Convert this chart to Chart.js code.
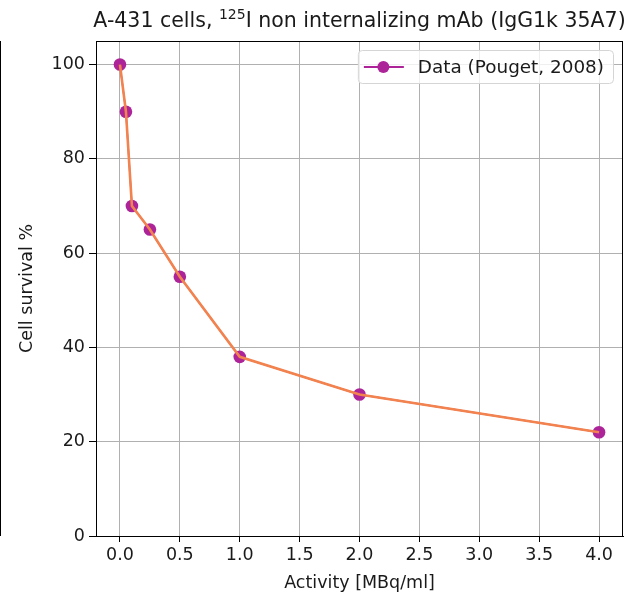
<!DOCTYPE html>
<html>
<head>
<meta charset="utf-8">
<script src="https://cdn.jsdelivr.net/npm/chart.js@4"></script>
<style>
html,body{margin:0;padding:0;background:#fff;}
#wrap{width:634px;height:598px;position:relative;}
</style>
</head>
<body>
<div id="wrap"><canvas id="c" width="634" height="598"></canvas></div>
<script>
// ---- data ----
const activity = [0, 0.05, 0.1, 0.25, 0.5, 1.0, 2.0, 4.0];          // MBq/ml
const survival = [100, 90, 70, 65, 55, 38, 30, 22];                  // %
const xTicks = [0, 0.5, 1.0, 1.5, 2.0, 2.5, 3.0, 3.5, 4.0];
const yTicks = [0, 20, 40, 60, 80, 100];
const seriesLabel = 'Data (Pouget, 2008)';
const titleParts = ['A-431 cells, ', '125', 'I non internalizing mAb (IgG1k 35A7)'];
const xLabel = 'Activity [MBq/ml]';
const yLabel = 'Cell survival %';

const PURPLE = '#ac2498';
const ORANGE = '#f2834f';
const FONT = 'DejaVu Sans';
const TXT = '#1a1a1a';
const FS = 17.5;
const LFS = 18.4;

const pts = activity.map((x, i) => ({x: x, y: survival[i]}));

const framePlugin = {
  id: 'frame',
  afterDraw(chart) {
    const {ctx, chartArea: a} = chart;
    ctx.save();
    ctx.strokeStyle = '#000';
    ctx.lineWidth = 1;
    ctx.strokeRect(Math.round(a.left) + 0.5, Math.round(a.top) + 0.5,
                   Math.round(a.right - a.left) - 1, Math.round(a.bottom - a.top));
    // spine of neighbouring subplot at the far left
    ctx.beginPath();
    ctx.moveTo(0.5, a.top);
    ctx.lineTo(0.5, a.bottom);
    ctx.stroke();

    // title with superscript
    const fs = 20.5;
    const mainFont = fs + 'px "' + FONT + '"';
    const supFont = Math.round(fs * 0.7) + 'px "' + FONT + '"';
    ctx.fillStyle = TXT;
    ctx.textBaseline = 'alphabetic';
    ctx.font = mainFont;
    const w0 = ctx.measureText(titleParts[0]).width;
    const w2 = ctx.measureText(titleParts[2]).width;
    ctx.font = supFont;
    const w1 = ctx.measureText(titleParts[1]).width;
    const total = w0 + w1 + w2;
    let x = (a.left + a.right) / 2 - total / 2;
    const base = a.top - 14;
    ctx.textAlign = 'left';
    ctx.font = mainFont;
    ctx.fillText(titleParts[0], x, base); x += w0;
    ctx.font = supFont;
    ctx.fillText(titleParts[1], x, base - fs * 0.4); x += w1;
    ctx.font = mainFont;
    ctx.fillText(titleParts[2], x, base);

    // legend
    ctx.font = LFS + 'px "' + FONT + '"';
    const tw = ctx.measureText(seriesLabel).width;
    const bw = 60 + tw + 9;
    const bh = 33;
    const bx = a.right - 10 - bw;
    const by = a.top + 9;
    ctx.fillStyle = 'rgba(255,255,255,0.8)';
    ctx.strokeStyle = '#d5d5d5';
    ctx.beginPath();
    ctx.roundRect(bx + 0.5, by + 0.5, bw, bh, 4);
    ctx.fill();
    ctx.stroke();
    const ly = by + bh / 2 + 0.5;
    ctx.strokeStyle = PURPLE;
    ctx.lineWidth = 2;
    ctx.beginPath();
    ctx.moveTo(bx + 6, ly);
    ctx.lineTo(bx + 46, ly);
    ctx.stroke();
    ctx.fillStyle = PURPLE;
    ctx.beginPath();
    ctx.arc(bx + 25.5, ly, 6, 0, Math.PI * 2);
    ctx.fill();
    ctx.fillStyle = TXT;
    ctx.textBaseline = 'middle';
    ctx.fillText(seriesLabel, bx + 60, ly + 1);
    ctx.restore();
  }
};

new Chart(document.getElementById('c'), {
  type: 'line',
  data: {
    datasets: [
      {
        label: seriesLabel,
        data: pts,
        borderColor: PURPLE,
        backgroundColor: PURPLE,
        borderWidth: 1.5,
        pointRadius: 6.3,
        pointBorderWidth: 0,
        pointBackgroundColor: PURPLE,
        tension: 0,
        order: 2
      },
      {
        label: 'line',
        data: pts,
        borderColor: ORANGE,
        backgroundColor: ORANGE,
        borderWidth: 2.6,
        pointRadius: 0,
        tension: 0,
        order: 1
      }
    ]
  },
  options: {
    responsive: false,
    animation: false,
    devicePixelRatio: 1,
    layout: {padding: {top: 41, right: 11, left: 0, bottom: 0}},
    plugins: {legend: {display: false}, title: {display: false}, tooltip: {enabled: false}},
    scales: {
      x: {
        type: 'linear',
        min: -0.2,
        max: 4.2,
        afterBuildTicks: s => { s.ticks = xTicks.map(v => ({value: v})); },
        afterFit: s => { s.height = 62; },
        grid: {color: '#b0b0b0', lineWidth: 1, tickColor: '#000', tickLength: 6},
        border: {display: true, color: '#000', width: 1},
        ticks: {
          color: TXT, font: {family: FONT, size: FS}, padding: 3, maxRotation: 0,
          callback: v => Number(v).toFixed(1)
        },
        title: {display: true, text: xLabel, color: TXT, font: {family: FONT, size: FS}, padding: {top: 0, bottom: 4.5}}
      },
      y: {
        type: 'linear',
        min: 0,
        max: 105,
        afterBuildTicks: s => { s.ticks = yTicks.map(v => ({value: v})); },
        afterFit: s => { s.width = 96; },
        grid: {color: '#b0b0b0', lineWidth: 1, tickColor: '#000', tickLength: 7},
        border: {display: true, color: '#000', width: 1},
        ticks: {
          color: TXT, font: {family: FONT, size: FS}, padding: 4,
          callback: v => String(v)
        },
        title: {display: true, text: yLabel, color: TXT, font: {family: FONT, size: FS}, padding: {top: 16.5, bottom: 0}}
      }
    }
  },
  plugins: [framePlugin]
});
</script>
</body>
</html>
